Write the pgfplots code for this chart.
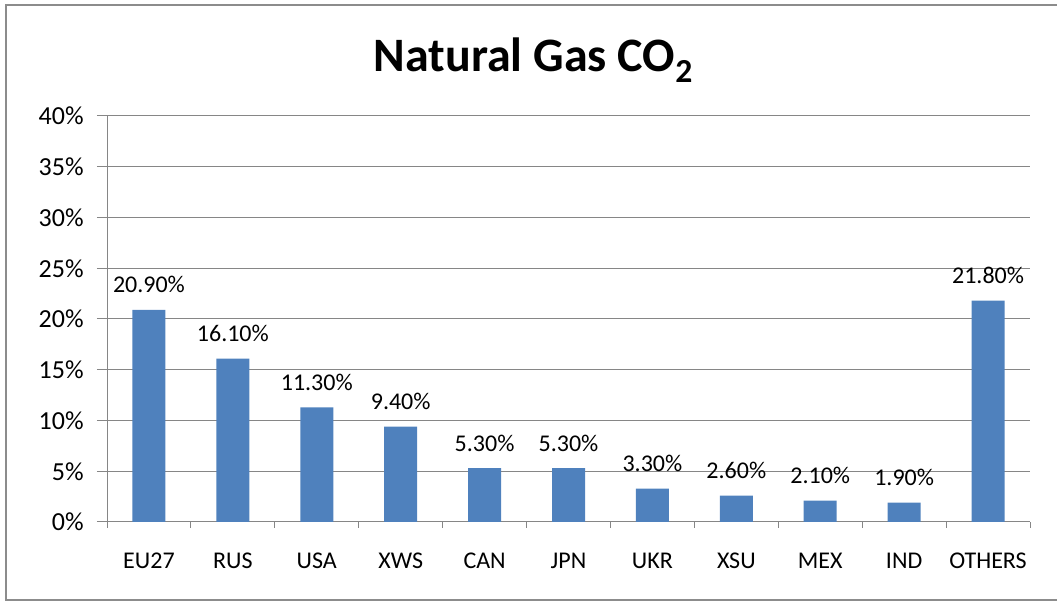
\documentclass[border=0pt]{standalone}
\usepackage{fontspec}
\setmainfont{Carlito}
\usepackage{pgfplots}
\pgfplotsset{compat=1.18}
\definecolor{barblue}{HTML}{4F81BD}
\definecolor{gridgray}{HTML}{868686}
\definecolor{framegray}{HTML}{8C8C8C}
\begin{document}
\begin{tikzpicture}[x=0.75pt,y=0.75pt]
\useasboundingbox (0,0) rectangle (1057,603);
\draw[framegray, line width=1.5pt] (5.5,2.5) rectangle (1075,597.5);
\node[font=\bfseries\fontsize{36}{40}\selectfont, anchor=base] at (533.5,531) {Natural Gas CO\textsubscript{2}};
\begin{axis}[
  at={(80.25pt,60.75pt)}, anchor=south west, scale only axis,
  width=692.25pt, height=304.5pt,
  xmin=-0.5, xmax=10.5, ymin=0, ymax=40,
  ybar, bar width=24.75pt,
  /pgf/number format/assume math mode=true,
  axis line style={gridgray, line width=0.75pt},
  axis x line*=bottom, axis y line*=left,
  ytick={0,5,...,40},
  yticklabel={\pgfmathprintnumber{\tick}\%},
  ymajorgrids, grid style={gridgray, line width=0.75pt},
  xtick={-0.5,0.5,...,10.5},
  x tick label as interval,
  xticklabels={EU27,RUS,USA,XWS,CAN,JPN,UKR,XSU,MEX,IND,OTHERS},
  tick align=outside, major tick length=7.5pt,
  tick style={gridgray, line width=0.75pt},
  xtick style={/pgfplots/major tick length=4.5pt},
  ticklabel style={font=\fontsize{18}{20}\selectfont, black},
  xticklabel style={yshift=-12pt},
  yticklabel style={font=\fontsize{19.5}{22}\selectfont, xshift=-6.5pt},
  nodes near coords={\pgfmathprintnumber[fixed,fixed zerofill,precision=2]{\pgfplotspointmeta}\%},
  every node near coord/.append style={font=\fontsize{18}{20}\selectfont, black, yshift=9pt},
]
\addplot[fill=barblue, draw=none] coordinates {
(0,20.9) (1,16.1) (2,11.3) (3,9.4) (4,5.3) (5,5.3) (6,3.3) (7,2.6) (8,2.1) (9,1.9) (10,21.8)
};
\end{axis}
\end{tikzpicture}
\end{document}
